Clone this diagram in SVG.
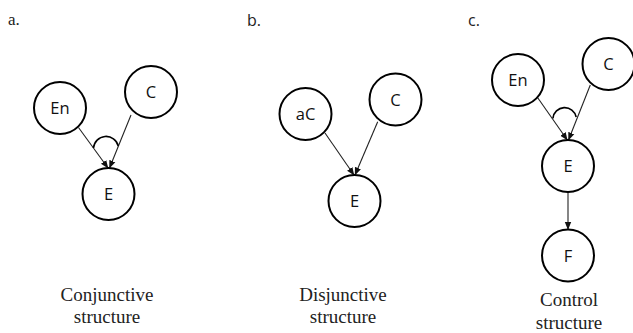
<svg xmlns="http://www.w3.org/2000/svg" width="633" height="333" viewBox="0 0 633 333">
<style>
.node circle{fill:#fff;stroke:#000;stroke-width:2}
.node text{font-family:"Open Sans","Liberation Sans",sans-serif;font-size:16.5px;text-anchor:middle;fill:#111}
.edge{stroke:#222;stroke-width:1.1;fill:none}
.arc{stroke:#000;stroke-width:1.6;fill:none}
.cap{font-family:"Liberation Serif",serif;font-size:19px;text-anchor:middle;fill:#222}
.lbls{font-family:"Open Sans","Liberation Sans",sans-serif;font-size:16px;fill:#222}
.lbl{font-family:"Liberation Serif",serif;font-size:17px;fill:#222}
</style>
<defs>
<marker id="ah" markerUnits="userSpaceOnUse" markerWidth="8" markerHeight="8" viewBox="0 0 8 8" refX="7.5" refY="4" orient="auto">
<path d="M0,0.8 L8,4 L0,7.2 Z" fill="#111"/>
</marker>
</defs>
<rect width="633" height="333" fill="#fff"/>
<text class="lbl" x="8" y="25">a.</text>
<text class="lbls" x="247" y="26">b.</text>
<text class="lbls" x="468" y="26">c.</text>
<g id="connectors">
<line class="edge" x1="78.5" y1="127.5" x2="108" y2="168" marker-end="url(#ah)"/>
<line class="edge" x1="131" y1="115" x2="109.5" y2="168" marker-end="url(#ah)"/>
<path class="arc" d="M93.5 148 A12.6 12.6 0 0 1 118.3 146"/>
<line class="edge" x1="325" y1="133" x2="354" y2="175" marker-end="url(#ah)"/>
<line class="edge" x1="377.7" y1="121.7" x2="355" y2="175" marker-end="url(#ah)"/>
<line class="edge" x1="537" y1="96.7" x2="567.3" y2="140" marker-end="url(#ah)"/>
<line class="edge" x1="590.3" y1="85" x2="568.5" y2="140" marker-end="url(#ah)"/>
<path class="arc" d="M552.9 118.3 A11.8 11.8 0 0 1 576.2 117"/>
<line class="edge" x1="568" y1="192" x2="568" y2="229.5" marker-end="url(#ah)"/>
</g>
<g id="a-En" class="node"><circle cx="60" cy="108" r="26"/><text x="60" y="114">En</text></g>
<g id="a-C" class="node"><circle cx="151" cy="92" r="26"/><text x="151" y="98">C</text></g>
<g id="a-E" class="node"><circle cx="108.5" cy="194" r="26"/><text x="108.5" y="200">E</text></g>
<g id="b-aC" class="node"><circle cx="305.5" cy="114" r="26"/><text x="305.5" y="120">aC</text></g>
<g id="b-C" class="node"><circle cx="395.5" cy="99.5" r="26"/><text x="395.5" y="105.5">C</text></g>
<g id="b-E" class="node"><circle cx="354.5" cy="201" r="26"/><text x="354.5" y="207">E</text></g>
<g id="c-En" class="node"><circle cx="518" cy="80" r="26"/><text x="518" y="86">En</text></g>
<g id="c-C" class="node"><circle cx="608.5" cy="64" r="26"/><text x="608.5" y="70">C</text></g>
<g id="c-E" class="node"><circle cx="568" cy="166" r="26"/><text x="568" y="172">E</text></g>
<g id="c-F" class="node"><circle cx="568" cy="255.5" r="26"/><text x="568" y="261.5">F</text></g>
<text class="cap" x="107" y="300.5">Conjunctive</text>
<text class="cap" x="107" y="323">structure</text>
<text class="cap" x="343" y="300.5">Disjunctive</text>
<text class="cap" x="343" y="323">structure</text>
<text class="cap" x="569" y="306">Control</text>
<text class="cap" x="569" y="329">structure</text>
</svg>
